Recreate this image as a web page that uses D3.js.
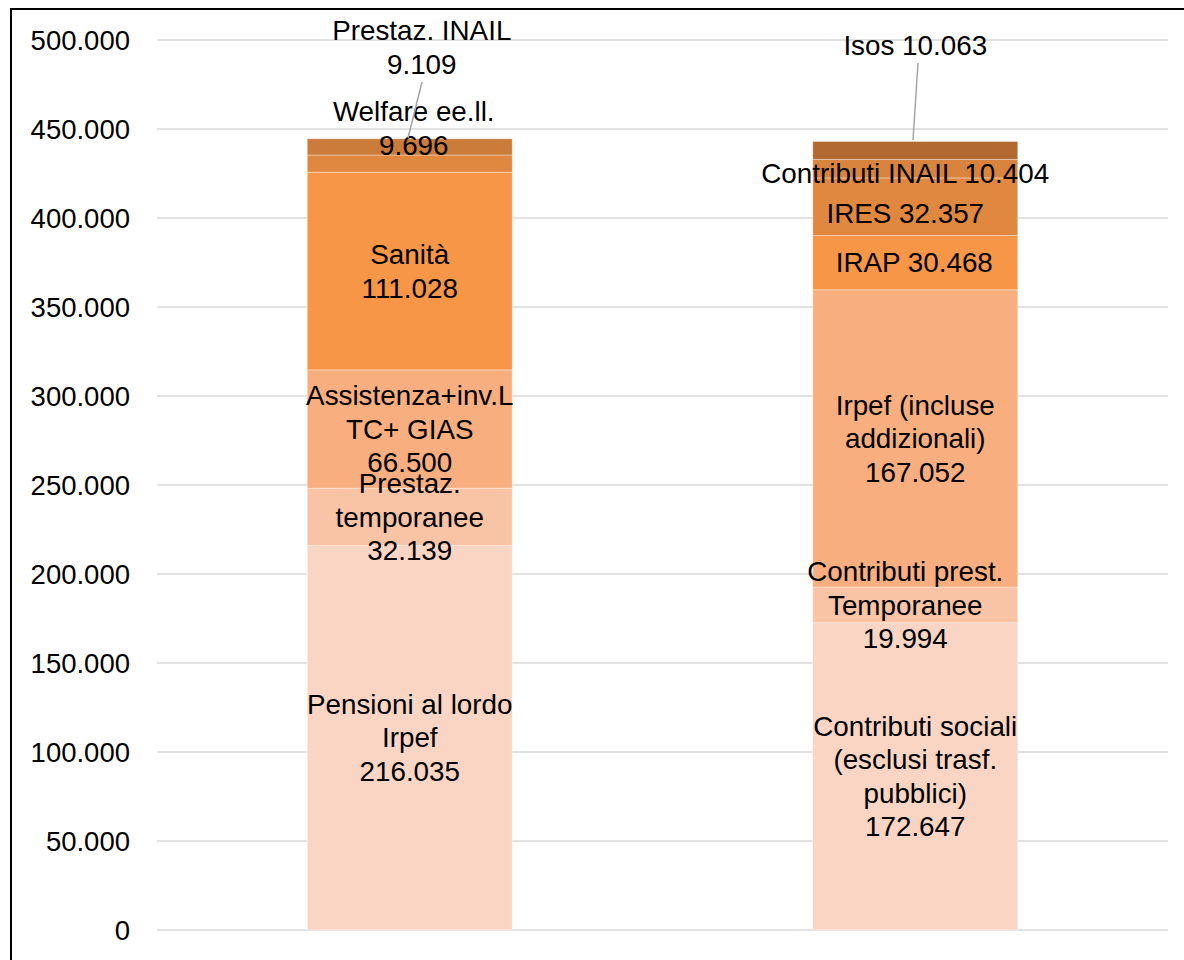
<!DOCTYPE html>
<html>
<head>
<meta charset="utf-8">
<script src="https://cdn.jsdelivr.net/npm/d3@7"></script>
<style>
  html, body { margin: 0; padding: 0; background: #fff; }
  svg { display: block; font-family: "Liberation Sans", Arial, sans-serif; }
</style>
</head>
<body>
<svg id="chart" width="1184" height="960"></svg>
<script>
// ---- data ----
const categories = ["Prestazioni", "Finanziamento"];

const leftNames = ["Pensioni al lordo\nIrpef", "Prestaz.\ntemporanee", "Assistenza+inv.L\nTC+ GIAS", "Sanità", "Welfare ee.ll.", "Prestaz. INAIL"];
const leftValues = [216035, 32139, 66500, 111028, 9696, 9109];

const rightNames = ["Contributi sociali\n(esclusi trasf.\npubblici)", "Contributi prest.\nTemporanee", "Irpef (incluse\naddizionali)", "IRAP", "IRES", "Contributi INAIL", "Isos"];
const rightValues = [172647, 19994, 167052, 30468, 32357, 10404, 10063];

const yTickValues = [0, 50000, 100000, 150000, 200000, 250000, 300000, 350000, 400000, 450000, 500000];

// ---- styles / layout ----
const leftColors = ["#FAD5C4", "#F9C3A5", "#F8AE7E", "#F79646", "#E0883F", "#CB7B3A"];
const rightColors = ["#FAD5C4", "#F9C3A5", "#F8AE7E", "#F79646", "#E0883F", "#D9843E", "#B36A32"];
const fontSize = 27.8;
const lineH = 33.5;

const svg = d3.select("#chart");
const y = d3.scaleLinear().domain([0, 500000]).range([930, 40]);
const x = d3.scaleBand().domain(categories).range([157, 1168]).padding(0);
const barFrac = 0.4055;
const barW = x.bandwidth() * barFrac;

const fmt = v => d3.format(",")(v).replace(/,/g, ".");

// outer border (partly cut off)
svg.append("rect").attr("x", 11).attr("y", 9).attr("width", 1200).attr("height", 1000)
  .attr("fill", "none").attr("stroke", "#000").attr("stroke-width", 2);

// gridlines
svg.append("g").selectAll("line").data(yTickValues).join("line")
  .attr("x1", 157).attr("x2", 1168)
  .attr("y1", d => y(d)).attr("y2", d => y(d))
  .attr("stroke", "#D9D9D9").attr("stroke-width", 1.5);

// y axis
const yAxis = d3.axisLeft(y).tickValues(yTickValues).tickFormat(fmt).tickSize(0).tickPadding(0);
const ga = svg.append("g").attr("transform", "translate(130,0)").call(yAxis);
ga.select(".domain").remove();
ga.selectAll("text").attr("font-size", 27.5).attr("fill", "#000")
  .attr("font-family", "Liberation Sans, Arial, sans-serif").attr("dy", "0.35em");

// label overrides (pixel layout): value-level anchor & dx
const leftLabelAdj = [
  {}, {}, {}, {},
  { at: 450500, dx: 4 },
  { at: 496000, dx: 12, leader: [[422, 82], [408, 138]] }
];
const rightLabelAdj = [
  { dx: 0 }, { dx: -10 }, {}, { dx: -1, single: true },
  { at: 402800, dx: -10, single: true },
  { at: 425300, dx: -10, single: true },
  { at: 497200, dx: 0, single: true, leader: [[918, 63], [913, 140]] }
];

function drawBar(cat, names, values, colors, adj) {
  const cx = x(cat) + x.bandwidth() / 2;
  let cum = 0;
  const segs = values.map((v, i) => { const s = { name: names[i], v, y0: cum, y1: cum + v, i }; cum += v; return s; });
  const g = svg.append("g");
  g.selectAll("rect").data(segs).join("rect")
    .attr("x", cx - barW / 2).attr("width", barW)
    .attr("y", d => y(d.y1)).attr("height", d => y(d.y0) - y(d.y1))
    .attr("fill", d => colors[d.i])
    .attr("stroke", "rgba(255,255,255,0.35)").attr("stroke-width", 1);

  segs.forEach(d => {
    const a = adj[d.i] || {};
    if (a.leader) {
      svg.append("line").attr("x1", a.leader[0][0]).attr("y1", a.leader[0][1])
        .attr("x2", a.leader[1][0]).attr("y2", a.leader[1][1])
        .attr("stroke", "#A6A6A6").attr("stroke-width", 1.5);
    }
    let lines;
    if (a.single) lines = [d.name + " " + fmt(d.v)];
    else lines = d.name.split("\n").concat([fmt(d.v)]);
    const cy = a.at !== undefined ? y(a.at) : y((d.y0 + d.y1) / 2);
    const tx = cx + (a.dx || 0);
    const t = svg.append("text").attr("text-anchor", "middle")
      .attr("font-size", fontSize).attr("fill", "#000");
    lines.forEach((ln, k) => {
      t.append("tspan").attr("x", tx)
        .attr("y", cy + (k - (lines.length - 1) / 2) * lineH)
        .attr("dy", "0.35em").text(ln);
    });
  });
}

drawBar(categories[0], leftNames, leftValues, leftColors, leftLabelAdj);
drawBar(categories[1], rightNames, rightValues, rightColors, rightLabelAdj);
</script>
</body>
</html>
